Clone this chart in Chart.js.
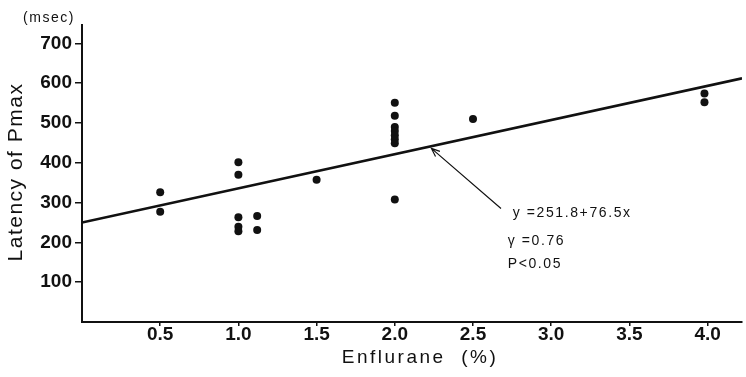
<!DOCTYPE html>
<html>
<head>
<meta charset="utf-8">
<script src="https://cdn.jsdelivr.net/npm/chart.js@4/dist/chart.umd.min.js"></script>
<style>
html,body{margin:0;padding:0;background:#fff;}
#wrap{width:746px;height:377px;}
</style>
</head>
<body>
<div id="wrap"><canvas id="c" width="746" height="377"></canvas></div>
<script>
// Data
const enflurane = [0.5, 0.5, 1.0, 1.0, 1.0, 1.0, 1.0, 1.12, 1.12, 1.5, 2.0, 2.0, 2.0, 2.0, 2.0, 2.0, 2.0, 2.0, 2.5, 3.98, 3.98];
const latency   = [326, 277, 401, 370, 263, 239, 228, 266, 231, 357, 551, 518, 490, 480, 469, 459, 449, 308, 510, 574, 552];
const regressionX = [0, 4.22];
const regressionY = [250, 612];
const xTickValues = [0.5, 1.0, 1.5, 2.0, 2.5, 3.0, 3.5, 4.0];
const xTickLabels = ['0.5', '1.0', '1.5', '2.0', '2.5', '3.0', '3.5', '4.0'];
const yTickValues = [100, 200, 300, 400, 500, 600, 700];
const yTickLabels = ['100', '200', '300', '400', '500', '600', '700'];
const equationLines = ['y =251.8+76.5x', 'γ =0.76', 'P<0.05'];
const xTitle = 'Enflurane  (%)';
const yTitle = 'Latency of Pmax';
const yUnit = '(msec)';

const FONT = "'Liberation Sans', Arial, sans-serif";

const annotationPlugin = {
  id: 'annot',
  afterDatasetsDraw(chart) {
    const ctx = chart.ctx;
    const xs = chart.scales.x, ys = chart.scales.y;
    // arrow (data coordinates)
    const tail = {x: xs.getPixelForValue(2.679), y: ys.getPixelForValue(285)};
    const tip = {x: xs.getPixelForValue(2.234), y: ys.getPixelForValue(436)};
    ctx.save();
    ctx.strokeStyle = '#111';
    ctx.lineWidth = 1.2;
    ctx.beginPath();
    ctx.moveTo(tail.x, tail.y);
    ctx.lineTo(tip.x, tip.y);
    const ang = Math.atan2(tip.y - tail.y, tip.x - tail.x);
    const hl = 9, ha = 0.38;
    ctx.moveTo(tip.x - hl * Math.cos(ang - ha), tip.y - hl * Math.sin(ang - ha));
    ctx.lineTo(tip.x, tip.y);
    ctx.lineTo(tip.x - hl * Math.cos(ang + ha), tip.y - hl * Math.sin(ang + ha));
    ctx.stroke();
    // equation text
    ctx.fillStyle = '#111';
    ctx.font = '14px ' + FONT;
    ctx.letterSpacing = '1.6px';
    ctx.textBaseline = 'middle';
    ctx.textAlign = 'left';
    const pos = [[2.754, 274], [2.722, 203], [2.722, 146]];
    equationLines.forEach((t, i) => {
      ctx.fillText(t, xs.getPixelForValue(pos[i][0]), ys.getPixelForValue(pos[i][1]));
    });
    ctx.restore();
  },
  afterDraw(chart) {
    const ctx = chart.ctx;
    ctx.save();
    ctx.fillStyle = '#111';
    ctx.textBaseline = 'middle';
    ctx.textAlign = 'center';
    // x title
    ctx.font = '19px ' + FONT;
    ctx.letterSpacing = '2.5px';
    ctx.fillText(xTitle, 420, 358);
    // unit
    ctx.font = '14px ' + FONT;
    ctx.letterSpacing = '1.5px';
    ctx.fillText(yUnit, 49, 18);
    // y title
    ctx.translate(16, 172);
    ctx.rotate(-Math.PI / 2);
    ctx.font = '21px ' + FONT;
    ctx.letterSpacing = '1.5px';
    ctx.fillText(yTitle, 0, 0);
    ctx.restore();
  }
};

new Chart(document.getElementById('c'), {
  type: 'scatter',
  data: {
    datasets: [
      {
        type: 'line',
        data: regressionX.map((x, i) => ({x: x, y: regressionY[i]})),
        borderColor: '#111',
        borderWidth: 2.6,
        pointRadius: 0,
        fill: false,
        order: 2
      },
      {
        data: enflurane.map((x, i) => ({x: x, y: latency[i]})),
        backgroundColor: '#111',
        borderColor: '#111',
        pointRadius: 4,
        borderWidth: 0,
        order: 1
      }
    ]
  },
  plugins: [annotationPlugin],
  options: {
    responsive: false,
    animation: false,
    events: [],
    layout: {padding: {top: 25, left: 0, right: 0, bottom: 0}},
    plugins: {legend: {display: false}, tooltip: {enabled: false}},
    scales: {
      x: {
        type: 'linear',
        min: 0,
        max: 4.22,
        afterBuildTicks(scale) { scale.ticks = xTickValues.map(v => ({value: v})); },
        afterFit(scale) { scale.height = 55; },
        ticks: {
          color: '#111',
          font: {family: FONT, size: 19, weight: 'bold'},
          padding: -3,
          maxRotation: 0,
          autoSkip: false,
          callback: (v, i) => xTickLabels[i]
        },
        grid: {drawOnChartArea: false, drawTicks: true, tickLength: 4, color: '#111', lineWidth: 1.5},
        border: {display: true, color: '#111', width: 2}
      },
      y: {
        type: 'linear',
        min: 0,
        max: 746,
        afterBuildTicks(scale) { scale.ticks = yTickValues.map(v => ({value: v})); },
        afterFit(scale) { scale.width = 82; },
        ticks: {
          color: '#111',
          font: {family: FONT, size: 19, weight: 'bold'},
          padding: 3,
          autoSkip: false,
          callback: (v, i) => yTickLabels[i]
        },
        grid: {drawOnChartArea: false, drawTicks: true, tickLength: 7, color: '#111', lineWidth: 1.5},
        border: {display: true, color: '#111', width: 2}
      }
    }
  }
});
</script>
</body>
</html>
